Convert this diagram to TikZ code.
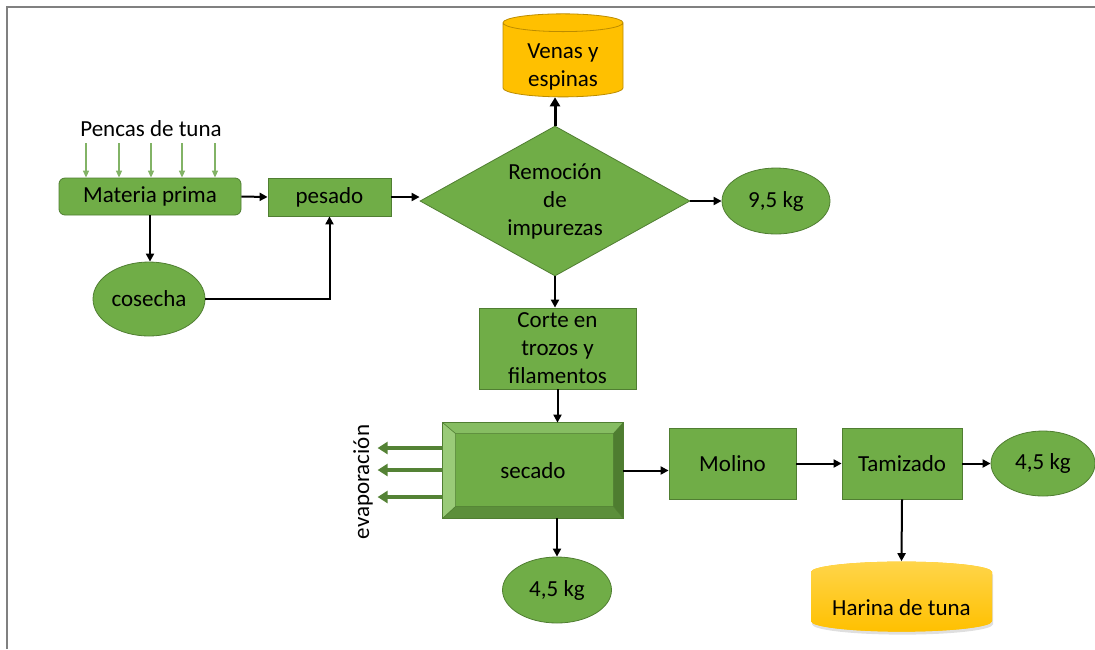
\documentclass[tikz,border=0pt]{standalone}
\usepackage{fontspec}
\setmainfont{Carlito}
\usetikzlibrary{shapes.geometric,arrows.meta,calc,shadows}
\definecolor{hojaverde}{HTML}{70AD47}
\definecolor{bordeverde}{HTML}{507E32}
\definecolor{vaporverde}{HTML}{548235}
\definecolor{entradaverde}{HTML}{82B366}
\definecolor{biselclaro}{HTML}{9ACB78}
\definecolor{biselmedio}{HTML}{86BD62}
\definecolor{biseloscuro}{HTML}{4E7D30}
\definecolor{biselfondo}{HTML}{5C8F3B}
\definecolor{ambar}{HTML}{FFC000}
\definecolor{ambarclaro}{HTML}{FFD54A}
\definecolor{bordeambar}{HTML}{BC8C00}

\begin{document}
\begin{tikzpicture}[x=1pt,y=-1pt,font=\fontsize{23}{28}\selectfont]
        \tikzstyle{caja}=[draw=bordeverde,fill=hojaverde,line width=0.8pt,inner sep=0pt,align=center]
        \tikzstyle{deposito}=[cylinder,shape border rotate=90,draw=bordeambar,fill=ambar,line width=0.8pt,inner sep=0pt,align=center]
        \tikzstyle{flujo}=[line width=2pt,-{Triangle[length=8pt,width=8pt]}]
        \tikzstyle{entrada}=[entradaverde,line width=1.5pt,-{Triangle[length=7pt,width=6pt]}]
        \tikzstyle{vapor}=[vaporverde,line width=4pt,-{Triangle[length=10pt,width=12pt]}]
        \useasboundingbox (0,0) rectangle (1095,649);
        \draw[gray,line width=2pt] (7,649) -- (7,7) -- (1095,7);
        % nodos
        \node (pencas) at (151,129) {Pencas de tuna};
        \node[caja,rounded corners=6pt,minimum width=182,minimum height=37] (materia) at (150,196.5) {Materia prima};
        \node[caja,minimum width=123,minimum height=38] (pesado) at (329.5,197) {pesado};
        \node[caja,ellipse,minimum width=112,minimum height=74] (cosecha) at (149,299) {cosecha};
        \node[caja,diamond,aspect=1.8,minimum width=270,minimum height=150] (remocion) at (555,201) {Remoción\\de\\impurezas};
        \node[deposito,aspect=0.25,minimum width=120,minimum height=74] (venas) at (563,60)
            {\raisebox{-7pt}[\height][\depth]{\begin{tabular}{@{}c@{}}Venas y\\espinas\end{tabular}}};
        \node[caja,ellipse,minimum width=108,minimum height=66] (pesoa) at (776,201) {9,5 kg};
        \node[caja,minimum width=157,minimum height=81] (corte) at (557.5,348.5) {Corte en\\trozos y\\filamentos};
        \node[caja,minimum width=180,minimum height=95] (secado) at (533,470.5) {};
        \node[caja,ellipse,minimum width=109,minimum height=66] (pesob) at (557,590) {4,5 kg};
        \node[caja,minimum width=127,minimum height=71] (molino) at (732.5,463.5) {Molino};
        \node[caja,minimum width=120,minimum height=71] (tamizado) at (902,463.5) {Tamizado};
        \node[caja,ellipse,minimum width=104,minimum height=65] (pesoc) at (1043,463.5) {4,5 kg};
        \node[deposito,draw=none,top color=ambarclaro,bottom color=ambar,aspect=0.15,minimum width=181,minimum height=70,
              drop shadow={opacity=0.25,shadow xshift=1pt,shadow yshift=-3pt}] (harina) at (901.5,602)
            {\raisebox{-6pt}[\height][\depth]{Harina de tuna}};
        \node[rotate=90] (evap) at (363,482) {evaporación};
        % bisel de secado
        \coordinate (s1) at ($(secado.north west)+(13,11)$);
        \coordinate (s2) at ($(secado.north east)+(-10,11)$);
        \coordinate (s3) at ($(secado.south east)+(-10,-12)$);
        \coordinate (s4) at ($(secado.south west)+(13,-12)$);
        \fill[biselmedio] (secado.north west) -- (secado.north east) -- (s2) -- (s1) -- cycle;
        \fill[biselclaro] (secado.north west) -- (s1) -- (s4) -- (secado.south west) -- cycle;
        \fill[biseloscuro] (secado.north east) -- (secado.south east) -- (s3) -- (s2) -- cycle;
        \fill[biselfondo] (secado.south west) -- (s4) -- (s3) -- (secado.south east) -- cycle;
        \draw[bordeverde,line width=0.6pt] (secado.north west) -- (s1) (secado.north east) -- (s2) (secado.south east) -- (s3) (secado.south west) -- (s4) (s1) -- (s2) -- (s3) -- (s4) -- cycle;
        \draw[bordeverde,line width=0.8pt] (secado.north west) rectangle (secado.south east);
        \node at (secado) {secado};
        % conectores
        \foreach \x in {86,119,151,182,215}
            \draw[entrada] (\x,143) -- (\x,143 |- materia.north);
        \draw[flujo] (materia.east) -- (pesado.west);
        \draw[flujo] (materia.south) -- (materia.south |- cosecha.north);
        \draw[flujo] (cosecha.east) -| (pesado.south);
        \draw[flujo] (pesado.east) -- (pesado.east -| remocion.west);
        \draw[line width=3pt,-{Triangle[length=9pt,width=10pt]}] (remocion.north) -- (remocion.north |- venas.south);
        \draw[flujo] (remocion.east) -- (pesoa.west);
        \draw[flujo] (remocion.south) -- (remocion.south |- corte.north);
        \draw[flujo] (corte.south) -- (corte.south |- secado.north);
        \draw[flujo] (secado.south -| pesob.north) -- (pesob.north);
        \draw[flujo] (secado.east) -- (secado.east -| molino.west);
        \draw[flujo] (molino.east) -- (tamizado.west);
        \draw[flujo] (tamizado.east) -- (pesoc.west);
        \draw[flujo] (tamizado.south) -- (harina.north);
        \foreach \y in {448,470,497}
            \draw[vapor] (secado.west |- 0,\y) -- ++(-65,0);
    \end{tikzpicture}
\end{document}
